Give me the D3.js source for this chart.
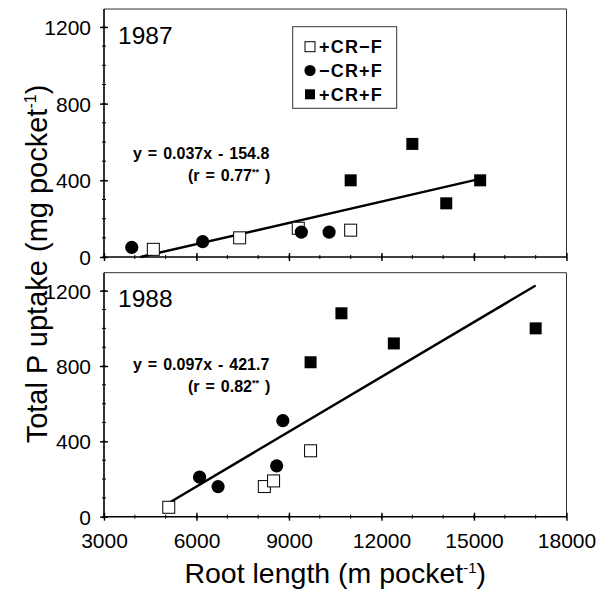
<!DOCTYPE html>
<html>
<head>
<meta charset="utf-8">
<script src="https://cdn.jsdelivr.net/npm/d3@7"></script>
<style>
	body { margin: 0; background: #fff; }
	svg { display: block; font-family: "Liberation Sans", Arial, sans-serif; }
	.tick text { font-size: 21px; font-family: "Liberation Sans", Arial, sans-serif; fill: #000; }
</style>
</head>
<body>
<div id="chart"></div>
<script>
const xTicks = [3000, 6000, 9000, 12000, 15000, 18000];
const yTicks = [0, 400, 800, 1200];
const treatments = ['+CR\u2212F', '\u2212CR+F', '+CR+F'];

// 1987
const crNoF87 = [[4600, 40], [7400, 100], [9300, 150], [11000, 140]];
const noCrF87 = [[3900, 50], [6200, 80], [9400, 130], [10300, 130]];
const crF87 = [[11000, 400], [13000, 590], [14100, 280], [15200, 400]];
const fit87 = { slope: 0.037, intercept: -154.8, from: 4184, to: 15300 };

// 1988
const crNoF88 = [[5100, 50], [8200, 160], [8500, 190], [9700, 350]];
const noCrF88 = [[6100, 210], [6700, 160], [8600, 270], [8800, 510]];
const crF88 = [[9700, 820], [10700, 1080], [12400, 920], [17000, 1000]];
const fit88 = { slope: 0.097, intercept: -421.7, from: 5100, to: 17000 };

const width = 608, height = 591;
const left = 104, right = 566.5;

const panels = [
	{ year: '1987', top: 9, zero: 257, tick1200: 27, sets: [crNoF87, noCrF87, crF87], fit: fit87,
		eq: ['y = 0.037x - 154.8', '0.77'], eqY: 159, labels: false, legend: true },
	{ year: '1988', top: 272.7, zero: 516.7, tick1200: 290.7, sets: [crNoF88, noCrF88, crF88], fit: fit88,
		eq: ['y = 0.097x - 421.7', '0.82'], eqY: 370, labels: true, legend: false }
];

const svg = d3.select('#chart')
	.append('svg')
	.attr('width', width)
	.attr('height', height);

const x = d3.scaleLinear()
	.domain([3000, 18000])
	.range([left, right]);

const xMinor = d3.range(3000, 18001, 1000);
const yMinor = d3.range(0, 1301, 100);

function drawSymbol(g, kind, cx, cy, s) {
	if (kind === 1) {
		g.append('circle')
			.attr('cx', cx).attr('cy', cy).attr('r', s / 2 + 0.6)
			.attr('fill', '#000');
	} else {
		g.append('rect')
			.attr('x', cx - s / 2).attr('y', cy - s / 2)
			.attr('width', s).attr('height', s)
			.attr('fill', kind === 0 ? '#fff' : '#000')
			.attr('stroke', '#000')
			.attr('stroke-width', kind === 0 ? 1 : 0);
	}
}

panels.forEach(p => {
	const y = d3.scaleLinear()
		.domain([0, 1200])
		.range([p.zero, p.tick1200]);

	const g = svg.append('g');

	// frame top and right
	g.append('path')
		.attr('d', `M${left},${p.top}H${right}V${p.zero}`)
		.attr('fill', 'none')
		.attr('stroke', '#333')
		.attr('stroke-width', 1);

	// minor ticks
	g.selectAll('.xminor')
		.data(xMinor)
		.enter()
		.append('line')
		.attr('x1', d => x(d)).attr('x2', d => x(d))
		.attr('y1', p.zero - 2).attr('y2', p.zero + 2)
		.attr('stroke', '#000');

	g.selectAll('.yminor')
		.data(yMinor.filter(d => y(d) > p.top + 2))
		.enter()
		.append('line')
		.attr('x1', left - 2).attr('x2', left + 2)
		.attr('y1', d => y(d)).attr('y2', d => y(d))
		.attr('stroke', '#000');

	// axes
	const xAxis = d3.axisBottom(x)
		.tickValues(xTicks)
		.tickSize(4)
		.tickPadding(12)
		.tickFormat(p.labels ? d3.format('d') : '');

	g.append('g')
		.attr('transform', `translate(0,${p.zero})`)
		.call(xAxis)
		.call(a => a.select('.domain').attr('stroke-width', 1.6).attr('d', `M${left},0H${right}`))
		.call(a => a.selectAll('.tick line').attr('y1', -4).attr('stroke-width', 1.4));

	const yAxis = d3.axisLeft(y)
		.tickValues(yTicks)
		.tickSize(4)
		.tickPadding(9)
		.tickFormat(d3.format('d'));

	g.append('g')
		.attr('transform', `translate(${left},0)`)
		.call(yAxis)
		.call(a => a.select('.domain').attr('stroke-width', 1.6).attr('d', `M0,${p.top}V${p.zero}`))
		.call(a => a.selectAll('.tick line').attr('x1', 4).attr('stroke-width', 1.4))
		.call(a => a.selectAll('.tick text').attr('dy', '0.36em'));

	// year label
	g.append('text')
		.attr('x', 118)
		.attr('y', p.top + (p.year === '1987' ? 35 : 34))
		.attr('font-size', 24.5)
		.text(p.year);

	// regression line
	const f = p.fit;
	g.append('line')
		.attr('x1', x(f.from)).attr('y1', y(f.slope * f.from + f.intercept))
		.attr('x2', x(f.to)).attr('y2', y(f.slope * f.to + f.intercept))
		.attr('stroke', '#000')
		.attr('stroke-width', 2.4);

	// points
	p.sets.forEach((set, k) => {
		set.forEach(d => drawSymbol(g, k, x(d[0]), y(d[1]), 12));
	});

	// equation
	g.append('text')
		.attr('x', 133)
		.attr('y', p.eqY)
		.attr('font-size', 16)
		.attr('font-weight', 'bold')
		.attr('word-spacing', 1.5)
		.attr('xml:space', 'preserve')
		.text(p.eq[0]);

	const r = g.append('text')
		.attr('x', 188)
		.attr('y', p.eqY + 22)
		.attr('font-size', 16)
		.attr('font-weight', 'bold')
		.attr('word-spacing', 1.5)
		.attr('xml:space', 'preserve');
	r.append('tspan').text(`(r = ${p.eq[1]}`);
	r.append('tspan').attr('dy', -6).attr('font-size', 9).text('**');
	r.append('tspan').attr('dy', 6).text(' )');

	if (p.legend) {
		const lg = g.append('g');
		lg.append('rect')
			.attr('x', 292.7).attr('y', 26.7)
			.attr('width', 104).attr('height', 81.6)
			.attr('fill', '#fff')
			.attr('stroke', '#333')
			.attr('stroke-width', 1);
		treatments.forEach((t, i) => {
			const cy = 46.7 + i * 23.8;
			drawSymbol(lg, i, 310, cy, 10);
			lg.append('text')
				.attr('x', 319)
				.attr('y', cy + 6.5)
				.attr('font-size', 18)
				.attr('font-weight', 'bold')
				.attr('letter-spacing', 1.2)
				.text(t);
		});
	}
});

// axis titles
const xt = svg.append('text')
	.attr('x', (left + right) / 2)
	.attr('y', 583)
	.attr('text-anchor', 'middle')
	.attr('font-size', 28.5);
xt.append('tspan').text('Root length (m pocket');
xt.append('tspan').attr('dy', -10).attr('font-size', 15).text('-1');
xt.append('tspan').attr('dy', 10).text(')');

const yt = svg.append('text')
	.attr('transform', 'translate(47,264) rotate(-90)')
	.attr('text-anchor', 'middle')
	.attr('font-size', 29);
yt.append('tspan').text('Total P uptake (mg pocket');
yt.append('tspan').attr('dy', -11).attr('font-size', 16).text('-1');
yt.append('tspan').attr('dy', 11).text(')');
</script>
</body>
</html>
